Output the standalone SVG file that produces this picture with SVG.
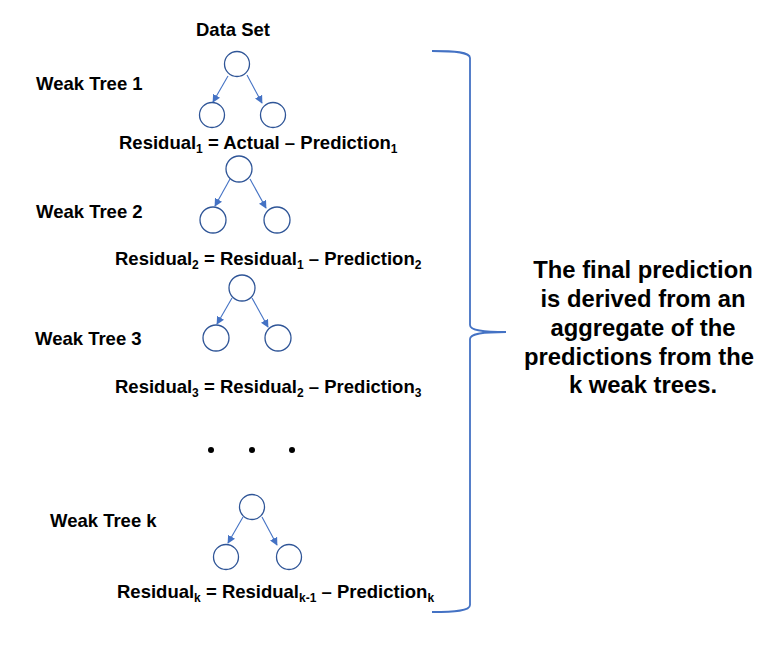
<svg xmlns="http://www.w3.org/2000/svg" width="783" height="645" viewBox="0 0 783 645">
<defs>
<marker id="ah" viewBox="0 0 10 10" refX="9" refY="5" markerWidth="8" markerHeight="8" markerUnits="userSpaceOnUse" orient="auto">
<path d="M0,0 L10,5 L0,10 z" fill="#4472C4"/>
</marker>
<style>
.n{fill:#fff;stroke:#2F5597;stroke-width:1.3}
.e{stroke:#4472C4;stroke-width:1.1;fill:none;marker-end:url(#ah)}
.t{font-family:"Liberation Sans",Arial,sans-serif;font-weight:bold;font-size:18.5px;fill:#000}
.s{font-size:12px}
.b{font-family:"Liberation Sans",Arial,sans-serif;font-weight:bold;font-size:23.8px;fill:#000;text-anchor:middle}
</style>
</defs>
<rect width="783" height="645" fill="#fff"/>
<g id="labels">
<text class="t" x="233" y="36" text-anchor="middle">Data Set</text>
<text class="t" x="36" y="90">Weak Tree 1</text>
<text class="t" x="36" y="218">Weak Tree 2</text>
<text class="t" x="35" y="345">Weak Tree 3</text>
<text class="t" x="50" y="527">Weak Tree k</text>
<text class="t" x="119" y="149">Residual<tspan class="s" dy="4">1</tspan><tspan dy="-4"> = Actual – Prediction</tspan><tspan class="s" dy="4">1</tspan></text>
<text class="t" x="115" y="265">Residual<tspan class="s" dy="4">2</tspan><tspan dy="-4"> = Residual</tspan><tspan class="s" dy="4">1</tspan><tspan dy="-4"> – Prediction</tspan><tspan class="s" dy="4">2</tspan></text>
<text class="t" x="115" y="393">Residual<tspan class="s" dy="4">3</tspan><tspan dy="-4"> = Residual</tspan><tspan class="s" dy="4">2</tspan><tspan dy="-4"> – Prediction</tspan><tspan class="s" dy="4">3</tspan></text>
<text class="t" x="117" y="598">Residual<tspan class="s" dy="4">k</tspan><tspan dy="-4"> = Residual</tspan><tspan class="s" dy="4">k-1</tspan><tspan dy="-4"> – Prediction</tspan><tspan class="s" dy="4">k</tspan></text>
</g>
<g id="connectors">
<line class="e" x1="228" y1="76" x2="213" y2="102"/>
<line class="e" x1="247" y1="75" x2="262" y2="103"/>
<line class="e" x1="230" y1="179" x2="215" y2="206"/>
<line class="e" x1="250" y1="179" x2="266" y2="208"/>
<line class="e" x1="232" y1="298" x2="217" y2="324"/>
<line class="e" x1="252" y1="298" x2="268" y2="327"/>
<line class="e" x1="243" y1="517" x2="228" y2="543"/>
<line class="e" x1="262" y1="517" x2="277" y2="545"/>
</g>
<g id="tree1">
<circle class="n" cx="237" cy="64" r="12.5"/>
<circle class="n" cx="212" cy="115" r="12.5"/>
<circle class="n" cx="273" cy="115" r="12.5"/>
</g>
<g id="tree2">
<circle class="n" cx="239" cy="169" r="13"/>
<circle class="n" cx="213" cy="220" r="13"/>
<circle class="n" cx="277" cy="220" r="13"/>
</g>
<g id="tree3">
<circle class="n" cx="242" cy="288" r="13"/>
<circle class="n" cx="216" cy="338" r="13"/>
<circle class="n" cx="278" cy="338" r="13"/>
</g>
<g id="treek">
<circle class="n" cx="252" cy="507" r="12.5"/>
<circle class="n" cx="226" cy="557" r="12.5"/>
<circle class="n" cx="289" cy="557" r="12.5"/>
</g>
<g id="dots" fill="#000">
<circle cx="211" cy="450" r="3"/>
<circle cx="252" cy="450" r="3"/>
<circle cx="292" cy="450" r="3"/>
</g>
<g id="brace">
<path d="M432,51 C455,51 470,52 470,58 L470,325 C470,330 480,332 506,332 C480,332 470,334 470,339 L470,605 C470,611 455,612 432,612" fill="none" stroke="#4472C4" stroke-width="1.8"/>
</g>
<g id="summary">
<text class="b" x="643" y="278">The final prediction</text>
<text class="b" x="643" y="307">is derived from an</text>
<text class="b" x="643" y="336">aggregate of the</text>
<text class="b" x="639" y="365">predictions from the</text>
<text class="b" x="643" y="393">k weak trees.</text>
</g>
</svg>
